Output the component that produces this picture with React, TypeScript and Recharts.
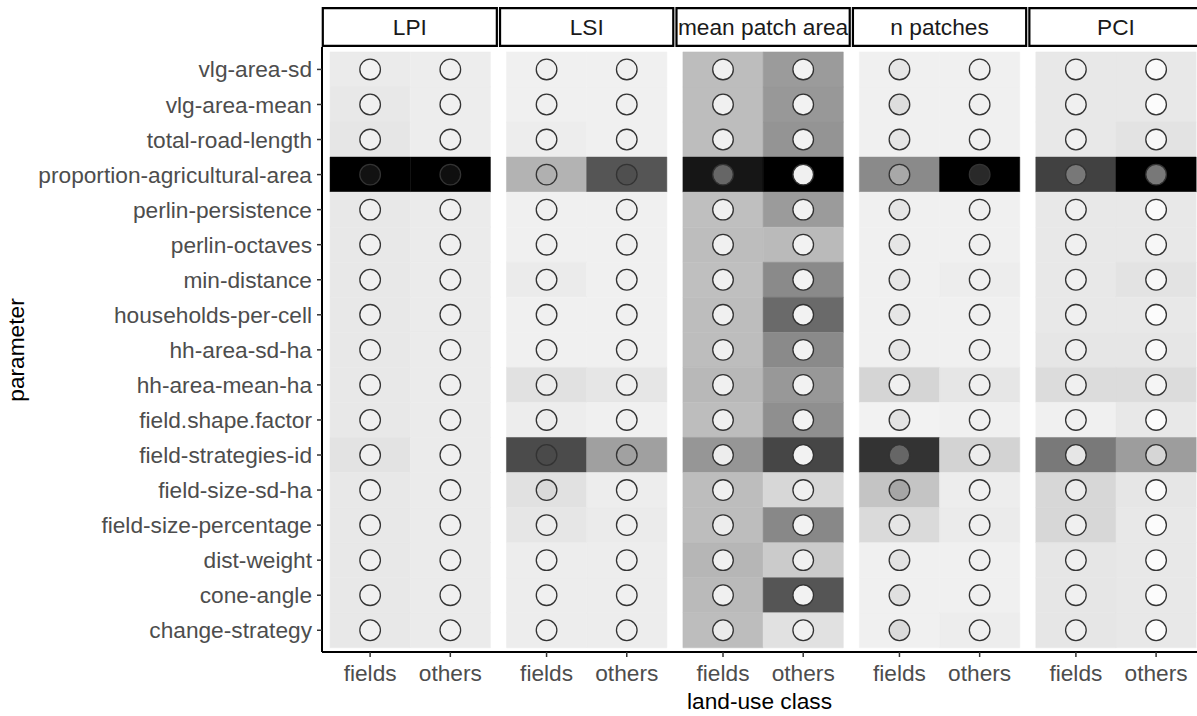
import { ScatterChart, Scatter, XAxis, YAxis, ReferenceArea } from "recharts";

const parameters = [
  "vlg-area-sd",
  "vlg-area-mean",
  "total-road-length",
  "proportion-agricultural-area",
  "perlin-persistence",
  "perlin-octaves",
  "min-distance",
  "households-per-cell",
  "hh-area-sd-ha",
  "hh-area-mean-ha",
  "field.shape.factor",
  "field-strategies-id",
  "field-size-sd-ha",
  "field-size-percentage",
  "dist-weight",
  "cone-angle",
  "change-strategy",
];
const metrics = ["LPI", "LSI", "mean patch area", "n patches", "PCI"];
const classes = ["fields", "others"];

// tile shade per parameter: [fields, others] (0 = light, 1 = black)
const lpiTile = [
  [0.03, 0.02], [0.04, 0.02], [0.05, 0.02], [1.0, 1.0], [0.04, 0.03], [0.04, 0.03],
  [0.04, 0.03], [0.04, 0.03], [0.04, 0.03], [0.04, 0.03], [0.04, 0.03], [0.06, 0.03],
  [0.04, 0.03], [0.04, 0.03], [0.04, 0.03], [0.04, 0.03], [0.04, 0.03],
];
const lsiTile = [
  [0.01, 0.01], [0.01, 0.01], [0.02, 0.01], [0.26, 0.65], [0.01, 0.01], [0.01, 0.01],
  [0.03, 0.01], [0.01, 0.01], [0.01, 0.01], [0.07, 0.05], [0.02, 0.01], [0.69, 0.34],
  [0.07, 0.02], [0.05, 0.03], [0.02, 0.02], [0.02, 0.02], [0.02, 0.02],
];
const mpaTile = [
  [0.22, 0.36], [0.22, 0.37], [0.22, 0.39], [0.91, 1.0], [0.21, 0.36], [0.22, 0.23],
  [0.21, 0.43], [0.22, 0.56], [0.22, 0.43], [0.24, 0.37], [0.22, 0.41], [0.38, 0.71],
  [0.22, 0.11], [0.22, 0.44], [0.25, 0.16], [0.23, 0.65], [0.22, 0.07],
];
const npTile = [
  [0.01, 0.01], [0.01, 0.01], [0.01, 0.01], [0.43, 1.0], [0.01, 0.01], [0.01, 0.01],
  [0.01, 0.02], [0.01, 0.01], [0.01, 0.01], [0.12, 0.05], [0.0, 0.01], [0.79, 0.13],
  [0.19, 0.02], [0.1, 0.03], [0.01, 0.01], [0.01, 0.01], [0.01, 0.02],
];
const pciTile = [
  [0.04, 0.04], [0.04, 0.04], [0.04, 0.06], [0.73, 1.0], [0.04, 0.04], [0.04, 0.04],
  [0.04, 0.06], [0.04, 0.04], [0.05, 0.05], [0.09, 0.09], [0.01, 0.04], [0.5, 0.35],
  [0.11, 0.05], [0.11, 0.04], [0.05, 0.04], [0.05, 0.04], [0.05, 0.04],
];

// point shade per parameter: [fields, others]
const lpiPoint = [
  [0.05, 0.06], [0.06, 0.06], [0.06, 0.06], [0.93, 0.94], [0.06, 0.06], [0.06, 0.06],
  [0.06, 0.06], [0.06, 0.06], [0.06, 0.06], [0.06, 0.06], [0.06, 0.06], [0.06, 0.06],
  [0.06, 0.06], [0.06, 0.06], [0.06, 0.06], [0.06, 0.06], [0.06, 0.06],
];
const lsiPoint = [
  [0.06, 0.06], [0.06, 0.06], [0.06, 0.06], [0.31, 0.69], [0.06, 0.06], [0.06, 0.06],
  [0.06, 0.06], [0.06, 0.06], [0.06, 0.06], [0.07, 0.06], [0.07, 0.06], [0.71, 0.37],
  [0.15, 0.06], [0.07, 0.06], [0.06, 0.06], [0.06, 0.06], [0.06, 0.06],
];
const mpaPoint = [
  [0.06, 0.05], [0.06, 0.05], [0.06, 0.05], [0.6, 0.06], [0.06, 0.05], [0.06, 0.05],
  [0.06, 0.05], [0.06, 0.05], [0.06, 0.05], [0.06, 0.05], [0.06, 0.05], [0.07, 0.05],
  [0.06, 0.06], [0.07, 0.05], [0.06, 0.06], [0.06, 0.05], [0.08, 0.06],
];
const npPoint = [
  [0.1, 0.06], [0.13, 0.06], [0.1, 0.06], [0.34, 0.84], [0.1, 0.06], [0.1, 0.06],
  [0.1, 0.06], [0.1, 0.06], [0.1, 0.06], [0.06, 0.06], [0.11, 0.06], [0.6, 0.07],
  [0.35, 0.06], [0.1, 0.06], [0.11, 0.06], [0.12, 0.06], [0.14, 0.06],
];
const pciPoint = [
  [0.06, 0.02], [0.06, 0.01], [0.06, 0.03], [0.53, 0.53], [0.06, 0.02], [0.06, 0.03],
  [0.06, 0.03], [0.06, 0.01], [0.06, 0.02], [0.06, 0.04], [0.06, 0.01], [0.1, 0.16],
  [0.07, 0.01], [0.06, 0.01], [0.06, 0.01], [0.06, 0.01], [0.06, 0.01],
];

const tileValues = [lpiTile, lsiTile, mpaTile, npTile, pciTile];
const pointValues = [lpiPoint, lsiPoint, mpaPoint, npPoint, pciPoint];

const PANEL_STEP = 2.2;
const FONT = "'Liberation Sans', Arial, Helvetica, sans-serif";
const FS = 22.7;

const grey = (g: number) => {
  const h = Math.max(0, Math.min(255, Math.round(g))).toString(16).padStart(2, "0");
  return `#${h}${h}${h}`;
};
const tileFill = (v: number) => grey(242 * (1 - v));
const pointFill = (v: number) => grey(255 * (1 - v));

const rowY = (i: number) => parameters.length - 1 - i;
const colX = (p: number, c: number) => p * PANEL_STEP + c;

const tiles: { key: string; x: number; y: number; v: number }[] = [];
const points: { x: number; y: number; v: number }[] = [];
metrics.forEach((_, p) => {
  parameters.forEach((_, i) => {
    classes.forEach((_, c) => {
      tiles.push({ key: `${p}-${i}-${c}`, x: colX(p, c), y: rowY(i), v: tileValues[p][i][c] });
      points.push({ x: colX(p, c), y: rowY(i), v: pointValues[p][i][c] });
    });
  });
});

const xTicks = metrics.flatMap((_, p) => classes.map((_, c) => colX(p, c)));
const yTicks = parameters.map((_, i) => rowY(i));

const xLabel = (v: number) => {
  const r = Math.round(v * 10) % Math.round(PANEL_STEP * 10);
  return r === 0 ? classes[0] : classes[1];
};

function PointShape(props: any) {
  const { cx, cy, payload } = props;
  return (
    <circle cx={cx} cy={cy} r={10.3} fill={pointFill(payload.v)} stroke="#333333" strokeWidth={1.3} />
  );
}

function YTitle() {
  return (
    <text
      x={24}
      y={350}
      transform="rotate(-90 24 350)"
      textAnchor="middle"
      fontSize={FS}
      fill="#000"
      fontFamily={FONT}
    >
      parameter
    </text>
  );
}

export default function App() {
  return (
    <div style={{ position: "absolute", left: 0, top: 0, background: "#fff", fontFamily: FONT }}>
      <ScatterChart width={1197} height={716} margin={{ top: 47, right: 0, bottom: 0, left: 0 }}>
        <XAxis
          type="number"
          dataKey="x"
          domain={[-0.6, 10.31]}
          allowDataOverflow
          ticks={xTicks}
          interval={0}
          tickFormatter={xLabel}
          height={64}
          tickSize={5}
          tickMargin={8}
          axisLine={{ stroke: "#000", strokeWidth: 2 }}
          tickLine={{ stroke: "#333", strokeWidth: 1.5 }}
          tick={{ fill: "#4d4d4d", fontSize: FS }}
          label={{ value: "land-use class", position: "insideBottom", offset: 7, fill: "#000", fontSize: FS }}
        />
        <YAxis
          type="number"
          dataKey="y"
          domain={[-0.62, 16.64]}
          allowDataOverflow
          ticks={yTicks}
          interval={0}
          tickFormatter={(v: number) => parameters[rowY(v)]}
          width={322}
          tickSize={5}
          tickMargin={5}
          axisLine={{ stroke: "#000", strokeWidth: 2 }}
          tickLine={{ stroke: "#333", strokeWidth: 1.5 }}
          tick={{ fill: "#4d4d4d", fontSize: FS }}
          label={{ content: () => <YTitle /> }}
        />

        {/* heatmap tiles */}
        {tiles.map((t) => (
          <ReferenceArea
            key={t.key}
            x1={t.x - 0.5}
            x2={t.x + 0.5}
            y1={t.y - 0.5}
            y2={t.y + 0.5}
            fill={tileFill(t.v)}
            fillOpacity={1}
            stroke={tileFill(t.v)}
            strokeWidth={0.5}
            ifOverflow="visible"
          />
        ))}

        {/* facet strips */}
        {metrics.map((m, p) => (
          <ReferenceArea
            key={m}
            x1={p * PANEL_STEP - (p === 0 ? 0.59 : 0.58)}
            x2={p * PANEL_STEP + 1.58}
            y1={16.67}
            y2={17.75}
            fill="#fff"
            fillOpacity={1}
            stroke="#000"
            strokeWidth={2.2}
            ifOverflow="visible"
            label={{ value: m, position: "center", fill: "#1a1a1a", fontSize: FS }}
          />
        ))}

        <Scatter data={points} shape={PointShape} isAnimationActive={false} />
      </ScatterChart>
    </div>
  );
}
